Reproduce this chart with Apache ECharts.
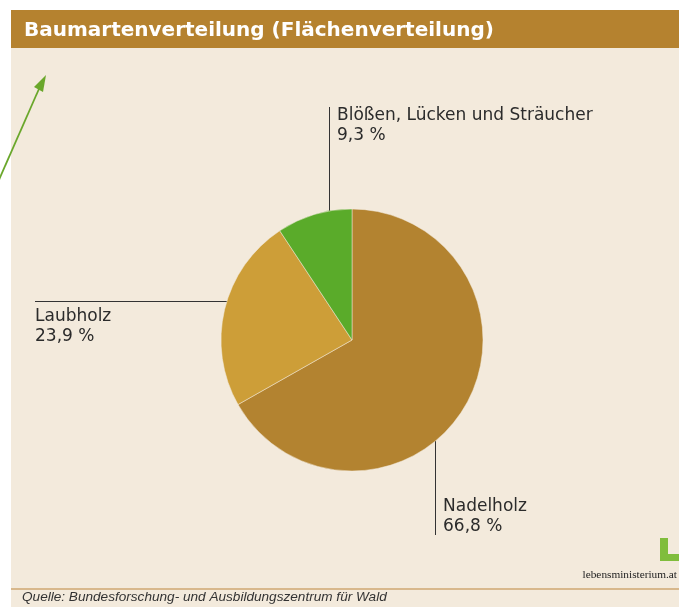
<!DOCTYPE html>
<html>
<head>
<meta charset="utf-8">
<title>Baumartenverteilung</title>
<script src="https://cdn.jsdelivr.net/npm/echarts@6/dist/echarts.min.js"></script>
<style>
  html, body { margin: 0; padding: 0; background: #ffffff; }
  #chart { width: 679px; height: 607px; }
</style>
</head>
<body>
<div id="chart"></div>
<script>
// Daten
var categories = ['Nadelholz', 'Laubholz', 'Blößen, Lücken und Sträucher'];
var shares = [66.8, 23.9, 9.3];

// Farben
var sliceColors = ['#b38330', '#cd9e38', '#5aab2a'];

var chart = echarts.init(document.getElementById('chart'));

// Beschriftungspositionen (Textblock oben links + Hinweislinie)
var labelPos = {
    0: { x: 443, y: 497, line: [[435.5, 441], [435.5, 535], [435.5, 535]] },
    1: { x: 35, y: 307, line: [[227, 301.5], [35, 301.5], [35, 301.5]] },
    2: { x: 337, y: 106, line: [[329.5, 211], [329.5, 107], [329.5, 107]] }
};

var option = {
    backgroundColor: '#ffffff',
    animation: false,
    title: {//Titel
        text: 'Baumartenverteilung (Flächenverteilung)',
        left: 24,
        top: 21,
        padding: 0,
        textStyle: {
            color: '#ffffff',
            fontSize: 20,
            fontWeight: 'bold',
            fontFamily: 'DejaVu Sans'
        }
    },
    graphic: [
        { type: 'rect', z: -10, shape: { x: 11, y: 48, width: 668, height: 559 }, style: { fill: '#f3eadc' } },
        { type: 'rect', z: -9, shape: { x: 11, y: 10, width: 668, height: 38 }, style: { fill: '#b5822f' } },
        { type: 'line', z: -8, shape: { x1: 11, y1: 589, x2: 679, y2: 589 }, style: { stroke: '#d8b88c', lineWidth: 2 } },
        {
            type: 'text', z: 5, x: 22, y: 604,
            style: {
                text: 'Quelle: Bundesforschung- und Ausbildungszentrum für Wald',
                fill: '#333333', fontSize: 13.6, fontStyle: 'italic',
                fontFamily: 'Liberation Sans', verticalAlign: 'bottom'
            }
        },
        // Pfeil links oben
        { type: 'line', z: 5, shape: { x1: -2, y1: 182, x2: 42, y2: 82 }, style: { stroke: '#6aa72b', lineWidth: 1.8 } },
        { type: 'polygon', z: 5, shape: { points: [[46, 75], [34, 87], [43, 92]] }, style: { fill: '#6aa72b' } },
        // Logo
        { type: 'rect', z: 5, shape: { x: 660, y: 538, width: 8, height: 23 }, style: { fill: '#80bd3c' } },
        { type: 'rect', z: 5, shape: { x: 660, y: 554, width: 19, height: 7 }, style: { fill: '#80bd3c' } },
        {
            type: 'text', z: 5, x: 677, y: 581,
            style: {
                text: 'lebensministerium.at', fill: '#222222', fontSize: 11.3,
                fontFamily: 'Liberation Serif', align: 'right', verticalAlign: 'bottom'
            }
        }
    ],
    series: [{
        name: 'Baumarten',
        type: 'pie',
        center: [352, 340],
        radius: 131,
        startAngle: 90,
        clockwise: true,
        avoidLabelOverlap: false,
        itemStyle: { borderColor: '#f3eadc', borderWidth: 0.5 },
        emphasis: { scale: false },
        label: {
            show: true,
            position: 'outside',
            color: '#2b2b2b',
            fontSize: 17,
            lineHeight: 20,
            fontFamily: 'DejaVu Sans',
            formatter: function (p) {
                return p.name + '\n' + String(p.value).replace('.', ',') + ' %';
            }
        },
        labelLine: {
            show: true,
            lineStyle: { color: '#333333', width: 1 }
        },
        labelLayout: function (params) {
            var lp = labelPos[params.dataIndex];
            return {
                x: lp.x,
                y: lp.y,
                align: 'left',
                verticalAlign: 'top',
                labelLinePoints: lp.line
            };
        },
        data: categories.map(function (name, i) {
            return { name: name, value: shares[i], itemStyle: { color: sliceColors[i] } };
        })
    }]
};

chart.setOption(option);
</script>
</body>
</html>
